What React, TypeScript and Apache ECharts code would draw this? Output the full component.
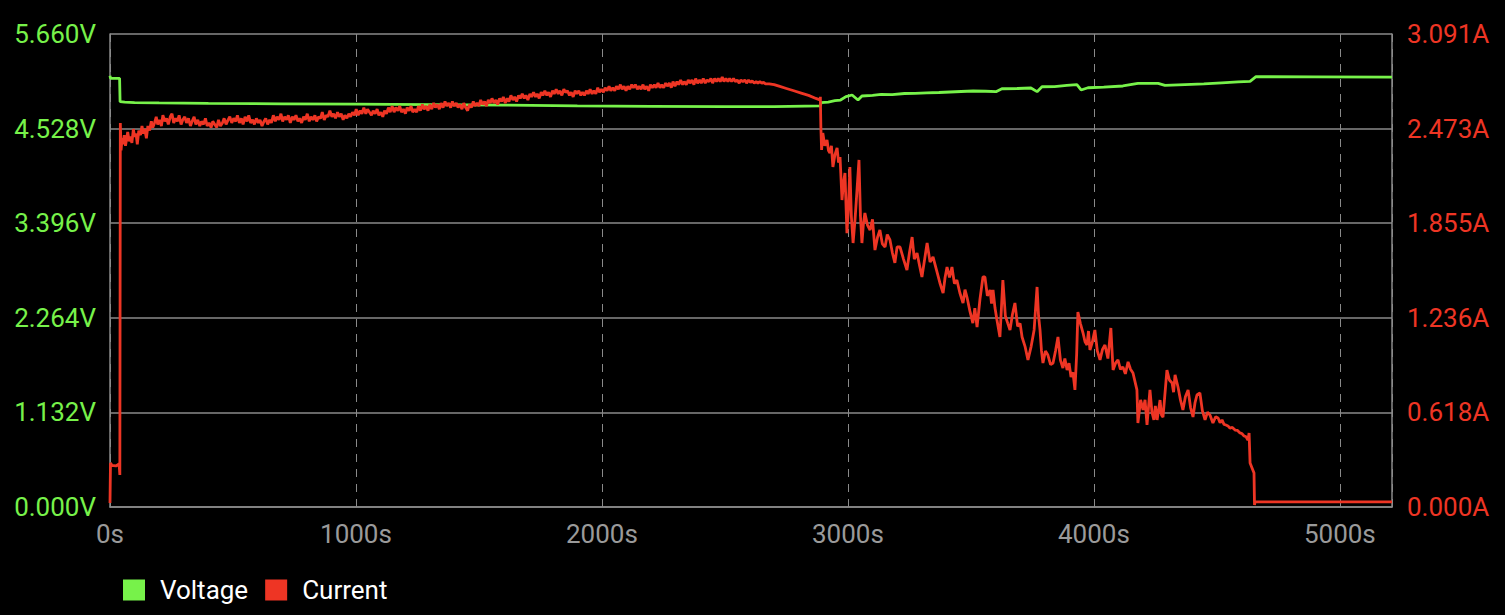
import React, { useEffect, useRef } from "react";
import * as echarts from "echarts";

const xTickLabels = ["0s", "1000s", "2000s", "3000s", "4000s", "5000s"];
const seriesNames = ["Voltage", "Current"];
const X_MAX = 5212;
const V_MAX = 5.66;
const V_STEP = 1.132;
const A_MAX = 3.091;
const A_STEP = 0.6182;

// [time s, volts]
const voltage: number[][] = [
  [0, 5.16], [2, 5.13], [20, 5.13], [39, 5.13], [41, 4.85], [60, 4.845], [100, 4.84],
  [200, 4.835], [400, 4.83], [700, 4.825], [1000, 4.82], [1300, 4.815], [1600, 4.81],
  [1900, 4.8], [2200, 4.795], [2500, 4.79], [2700, 4.79], [2888, 4.8], [2891, 4.838],
  [2920, 4.845], [2947, 4.862], [2970, 4.87], [2992, 4.91], [3017, 4.93], [3041, 4.87],
  [3057, 4.918], [3100, 4.925], [3135, 4.938], [3180, 4.935], [3230, 4.948], [3273, 4.95],
  [3320, 4.955], [3370, 4.96], [3415, 4.966], [3460, 4.972], [3509, 4.978], [3560, 4.975],
  [3602, 4.97], [3626, 5.005], [3690, 5.008], [3744, 5.014], [3769, 4.97], [3789, 5.029],
  [3840, 5.03], [3890, 5.045], [3931, 5.053], [3948, 4.99], [3976, 5.017], [4040, 5.025],
  [4118, 5.038], [4179, 5.07], [4261, 5.07], [4289, 5.046], [4370, 5.055], [4447, 5.062],
  [4520, 5.075], [4586, 5.086], [4635, 5.094], [4659, 5.149], [4900, 5.147], [5212, 5.145],
];

// [time s, amps]
const current: number[][] = [
  [0, 0.026], [2, 0.288], [8, 0.272], [24, 0.268], [37, 0.281], [40, 0.209], [42, 2.509],
  [45, 2.33], [49, 2.41], [53, 2.37], [58, 2.43], [63, 2.36], [67, 2.4], [72, 2.45], [78, 2.39],
  [83, 2.42], [89, 2.38], [95, 2.47], [100, 2.42], [106, 2.44], [111, 2.37], [117, 2.46],
  [124, 2.43], [130, 2.49], [136, 2.44], [141, 2.47], [148, 2.41], [154, 2.49], [161, 2.46],
  [168, 2.52], [174, 2.48], [181, 2.51], [188, 2.55], [194, 2.5], [201, 2.53], [209, 2.49],
  [215, 2.56], [223, 2.52], [230, 2.54], [237, 2.5], [245, 2.55], [252, 2.57], [259, 2.51],
  [267, 2.54], [274, 2.52], [281, 2.56], [289, 2.5], [296, 2.53], [304, 2.55], [311, 2.51],
  [319, 2.54], [327, 2.49], [334, 2.52], [342, 2.55], [349, 2.5], [357, 2.53], [365, 2.49],
  [372, 2.52], [380, 2.5], [388, 2.54], [395, 2.49], [403, 2.51], [411, 2.48], [418, 2.52],
  [426, 2.5], [434, 2.48], [441, 2.53], [449, 2.49], [457, 2.51], [464, 2.54], [472, 2.5],
  [480, 2.53], [487, 2.55], [495, 2.51], [503, 2.54], [511, 2.52], [518, 2.56], [526, 2.51],
  [534, 2.54], [541, 2.5], [549, 2.55], [557, 2.52], [564, 2.56], [572, 2.51], [580, 2.53],
  [587, 2.5], [595, 2.54], [603, 2.51], [610, 2.53], [618, 2.49], [626, 2.52], [633, 2.54],
  [641, 2.5], [649, 2.53], [656, 2.51], [664, 2.56], [672, 2.52], [679, 2.55], [687, 2.53],
  [695, 2.57], [702, 2.52], [710, 2.55], [718, 2.53], [725, 2.56], [733, 2.51], [741, 2.55],
  [748, 2.53], [756, 2.56], [764, 2.52], [771, 2.54], [779, 2.51], [787, 2.55], [794, 2.53],
  [802, 2.57], [810, 2.52], [817, 2.55], [825, 2.53], [833, 2.56], [840, 2.52], [848, 2.55],
  [856, 2.54], [863, 2.58], [871, 2.53], [879, 2.56], [886, 2.55], [894, 2.59], [902, 2.55],
  [909, 2.57], [917, 2.54], [925, 2.58], [932, 2.55], [940, 2.57], [948, 2.53], [955, 2.56],
  [963, 2.54], [971, 2.57], [978, 2.55], [986, 2.58], [994, 2.56], [1001, 2.6], [1009, 2.56],
  [1017, 2.59], [1024, 2.57], [1032, 2.61], [1040, 2.57], [1047, 2.6], [1055, 2.58],
  [1063, 2.56], [1070, 2.59], [1078, 2.57], [1086, 2.6], [1093, 2.56], [1101, 2.58],
  [1109, 2.55], [1116, 2.59], [1124, 2.57], [1132, 2.61], [1139, 2.58], [1147, 2.62],
  [1155, 2.58], [1162, 2.61], [1170, 2.59], [1178, 2.62], [1185, 2.58], [1193, 2.6],
  [1201, 2.57], [1208, 2.61], [1216, 2.59], [1224, 2.62], [1231, 2.58], [1239, 2.6],
  [1247, 2.58], [1254, 2.62], [1262, 2.59], [1270, 2.63], [1277, 2.6], [1285, 2.62],
  [1293, 2.59], [1300, 2.63], [1308, 2.6], [1316, 2.64], [1323, 2.61], [1331, 2.63],
  [1339, 2.6], [1346, 2.64], [1354, 2.61], [1362, 2.65], [1369, 2.62], [1377, 2.64],
  [1385, 2.61], [1392, 2.65], [1400, 2.62], [1408, 2.64], [1415, 2.61], [1423, 2.63],
  [1431, 2.6], [1438, 2.64], [1446, 2.61], [1454, 2.59], [1461, 2.63], [1469, 2.61],
  [1477, 2.65], [1484, 2.62], [1492, 2.64], [1500, 2.62], [1507, 2.66], [1515, 2.63],
  [1523, 2.65], [1530, 2.62], [1538, 2.66], [1546, 2.64], [1553, 2.67], [1561, 2.64],
  [1569, 2.66], [1576, 2.63], [1584, 2.67], [1592, 2.65], [1599, 2.68], [1607, 2.64],
  [1615, 2.67], [1622, 2.65], [1630, 2.69], [1638, 2.66], [1645, 2.68], [1653, 2.65],
  [1661, 2.69], [1668, 2.67], [1676, 2.7], [1684, 2.67], [1691, 2.69], [1699, 2.66],
  [1707, 2.7], [1714, 2.68], [1722, 2.71], [1730, 2.68], [1737, 2.7], [1745, 2.67],
  [1753, 2.71], [1760, 2.69], [1768, 2.72], [1776, 2.69], [1783, 2.71], [1791, 2.68],
  [1799, 2.72], [1806, 2.7], [1814, 2.73], [1822, 2.7], [1829, 2.72], [1837, 2.69],
  [1845, 2.73], [1852, 2.71], [1860, 2.72], [1868, 2.69], [1875, 2.71], [1883, 2.68],
  [1891, 2.72], [1898, 2.7], [1906, 2.72], [1914, 2.69], [1921, 2.71], [1929, 2.69],
  [1937, 2.72], [1944, 2.7], [1952, 2.73], [1960, 2.7], [1967, 2.72], [1975, 2.7],
  [1983, 2.74], [1990, 2.71], [1998, 2.73], [2006, 2.71], [2013, 2.74], [2021, 2.72],
  [2029, 2.75], [2036, 2.72], [2044, 2.74], [2052, 2.72], [2059, 2.75], [2067, 2.73],
  [2075, 2.76], [2082, 2.73], [2090, 2.75], [2098, 2.72], [2105, 2.75], [2113, 2.73],
  [2121, 2.76], [2128, 2.74], [2136, 2.76], [2144, 2.73], [2151, 2.75], [2159, 2.73],
  [2167, 2.76], [2174, 2.73], [2182, 2.75], [2190, 2.72], [2197, 2.76], [2205, 2.74],
  [2213, 2.76], [2220, 2.74], [2228, 2.77], [2236, 2.74], [2243, 2.76], [2251, 2.74],
  [2259, 2.77], [2266, 2.75], [2274, 2.77], [2282, 2.74], [2289, 2.78], [2297, 2.75],
  [2305, 2.78], [2312, 2.76], [2320, 2.79], [2328, 2.76], [2335, 2.78], [2343, 2.76],
  [2351, 2.79], [2358, 2.77], [2366, 2.79], [2374, 2.76], [2381, 2.8], [2389, 2.77],
  [2397, 2.79], [2404, 2.77], [2412, 2.8], [2420, 2.77], [2427, 2.79], [2435, 2.78],
  [2443, 2.8], [2450, 2.77], [2458, 2.8], [2466, 2.78], [2473, 2.8], [2481, 2.78],
  [2489, 2.81], [2496, 2.78], [2504, 2.8], [2512, 2.78], [2519, 2.8], [2527, 2.78],
  [2535, 2.8], [2542, 2.78], [2550, 2.79], [2558, 2.77], [2565, 2.79], [2573, 2.78],
  [2581, 2.79], [2588, 2.77], [2596, 2.79], [2604, 2.775], [2611, 2.785], [2619, 2.77],
  [2627, 2.78], [2634, 2.77], [2642, 2.78], [2650, 2.77], [2657, 2.775], [2665, 2.765],
  [2680, 2.765], [2700, 2.76], [2720, 2.75], [2750, 2.735], [2780, 2.72], [2810, 2.705],
  [2840, 2.69], [2870, 2.67], [2886, 2.66], [2888, 2.68], [2890, 2.485],
  [2893, 2.333], [2898, 2.444], [2906, 2.36], [2915, 2.398], [2921, 2.33], [2927, 2.313],
  [2933, 2.36], [2939, 2.222], [2947, 2.3], [2956, 2.346], [2962, 2.25], [2968, 2.287],
  [2976, 2.006], [2982, 2.12], [2988, 2.183], [2996, 1.79], [3002, 1.95], [3008, 2.222],
  [3014, 1.9], [3021, 1.725], [3029, 1.88], [3037, 2.072], [3045, 2.268], [3051, 1.9],
  [3057, 1.725], [3063, 1.85], [3069, 1.921], [3080, 1.84], [3090, 1.81], [3100, 1.88],
  [3110, 1.679], [3120, 1.76], [3130, 1.81], [3140, 1.72], [3151, 1.699], [3160, 1.78],
  [3171, 1.745], [3181, 1.66], [3191, 1.595], [3200, 1.7], [3212, 1.699], [3226, 1.62],
  [3240, 1.549], [3250, 1.66], [3261, 1.764], [3270, 1.62], [3281, 1.66], [3291, 1.58],
  [3301, 1.503], [3312, 1.62], [3322, 1.725], [3334, 1.6], [3346, 1.634], [3360, 1.55],
  [3374, 1.464], [3387, 1.398], [3395, 1.5], [3403, 1.568], [3413, 1.5], [3423, 1.568],
  [3433, 1.46], [3443, 1.483], [3455, 1.4], [3468, 1.333], [3476, 1.42], [3484, 1.372],
  [3496, 1.28], [3508, 1.202], [3516, 1.3], [3525, 1.176], [3537, 1.36], [3549, 1.503],
  [3557, 1.503], [3567, 1.38], [3578, 1.418], [3584, 1.33], [3590, 1.418], [3598, 1.3],
  [3606, 1.222], [3618, 1.111], [3630, 1.483], [3640, 1.25], [3650, 1.2], [3659, 1.157],
  [3669, 1.26], [3679, 1.333], [3690, 1.18], [3700, 1.2], [3708, 1.111], [3720, 1.05],
  [3732, 0.961], [3745, 1.05], [3757, 1.157], [3769, 1.438], [3775, 1.25], [3781, 1.157],
  [3787, 1.02], [3793, 0.941], [3803, 1.02], [3813, 0.993], [3824, 0.93], [3834, 0.941],
  [3844, 1.02], [3854, 1.111], [3864, 0.96], [3874, 0.908], [3882, 0.97], [3891, 0.895],
  [3899, 0.94], [3907, 0.85], [3915, 0.88], [3923, 0.765], [3930, 1.0], [3935, 1.274],
  [3945, 1.2], [3956, 1.137], [3964, 1.08], [3972, 1.059], [3978, 1.15], [3984, 1.026],
  [3994, 1.08], [4004, 1.157], [4014, 1.02], [4025, 0.961], [4035, 1.03], [4045, 1.059],
  [4057, 0.97], [4069, 1.17], [4078, 0.895], [4088, 0.94], [4098, 0.961], [4108, 0.9],
  [4118, 0.915], [4128, 0.87], [4139, 0.948], [4149, 0.9], [4159, 0.876], [4175, 0.765],
  [4179, 0.549], [4190, 0.7], [4200, 0.634], [4208, 0.7], [4216, 0.536], [4228, 0.765],
  [4236, 0.62], [4244, 0.569], [4250, 0.66], [4257, 0.569], [4269, 0.699], [4275, 0.6],
  [4281, 0.588], [4297, 0.895], [4307, 0.83], [4318, 0.81], [4324, 0.75], [4330, 0.863],
  [4342, 0.784], [4352, 0.7], [4362, 0.634], [4372, 0.72], [4383, 0.765], [4393, 0.65],
  [4403, 0.588], [4411, 0.68], [4419, 0.732], [4431, 0.745], [4441, 0.63], [4452, 0.569],
  [4462, 0.62], [4472, 0.601], [4484, 0.549], [4495, 0.59], [4505, 0.582], [4513, 0.55],
  [4521, 0.569], [4529, 0.54], [4537, 0.536], [4545, 0.53], [4553, 0.516], [4563, 0.52],
  [4574, 0.503], [4584, 0.5], [4594, 0.484], [4602, 0.48], [4610, 0.464], [4618, 0.46],
  [4626, 0.438], [4631, 0.484], [4635, 0.288], [4643, 0.255], [4651, 0.222], [4653, 0.013],
  [4655, 0.033], [5212, 0.033],
];

const GREEN = "#77f24a";
const RED = "#ee3524";
const GRID = "#8a8a8a";
const FONT = "Roboto";

export default function App() {
  const ref = useRef<HTMLDivElement>(null);
  useEffect(() => {
    if (!ref.current) return;
    const chart = echarts.init(ref.current, undefined, { renderer: "svg" });
    chart.setOption({
      animation: false,
      backgroundColor: "#000000",
      grid: { left: 110, right: 113, top: 34, bottom: 108, containLabel: false },
      legend: {
        data: seriesNames,
        left: 123,
        top: 577,
        padding: 0,
        icon: "rect",
        itemWidth: 22,
        itemHeight: 21,
        itemGap: 17,
        textStyle: { color: "#ffffff", fontSize: 26, fontFamily: FONT, padding: [0, 0, 0, 10] },
      },
      xAxis: {
        type: "value",
        min: 0,
        max: X_MAX,
        interval: 1000,
        axisLine: { show: true, lineStyle: { color: GRID, width: 1.5 } },
        axisTick: { show: false },
        axisLabel: {
          color: "#9a9a9a",
          fontSize: 26,
          fontFamily: FONT,
          margin: 14,
          showMaxLabel: false,
          formatter: (v: number) => xTickLabels[Math.round(v / 1000)] ?? "",
        },
        splitLine: { show: true, lineStyle: { color: GRID, width: 1, type: [8, 7] } },
      },
      yAxis: [
        {
          type: "value",
          min: 0,
          max: V_MAX,
          interval: V_STEP,
          position: "left",
          axisLine: { show: true, lineStyle: { color: GRID, width: 1.5 } },
          axisTick: { show: false },
          axisLabel: {
            color: GREEN,
            fontSize: 26,
            fontFamily: FONT,
            margin: 14,
            formatter: (v: number) => v.toFixed(3) + "V",
          },
          splitLine: { show: true, lineStyle: { color: GRID, width: 1.5 } },
        },
        {
          type: "value",
          min: 0,
          max: A_MAX,
          interval: A_STEP,
          position: "right",
          axisLine: { show: true, lineStyle: { color: GRID, width: 1.5 } },
          axisTick: { show: false },
          axisLabel: {
            color: RED,
            fontSize: 26,
            fontFamily: FONT,
            margin: 15,
            formatter: (v: number) => v.toFixed(3) + "A",
          },
          splitLine: { show: false },
        },
      ],
      series: [
        {
          name: seriesNames[0],
          type: "line",
          yAxisIndex: 0,
          data: voltage,
          showSymbol: false,
          color: GREEN,
          lineStyle: { color: GREEN, width: 2.8 },
        },
        {
          name: seriesNames[1],
          type: "line",
          yAxisIndex: 1,
          data: current,
          showSymbol: false,
          color: RED,
          lineStyle: { color: RED, width: 2.8 },
        },
      ],
    });
    return () => chart.dispose();
  }, []);
  return (
    <div
      ref={ref}
      style={{ position: "fixed", left: 0, top: 0, width: 1505, height: 615, background: "#000" }}
    />
  );
}
